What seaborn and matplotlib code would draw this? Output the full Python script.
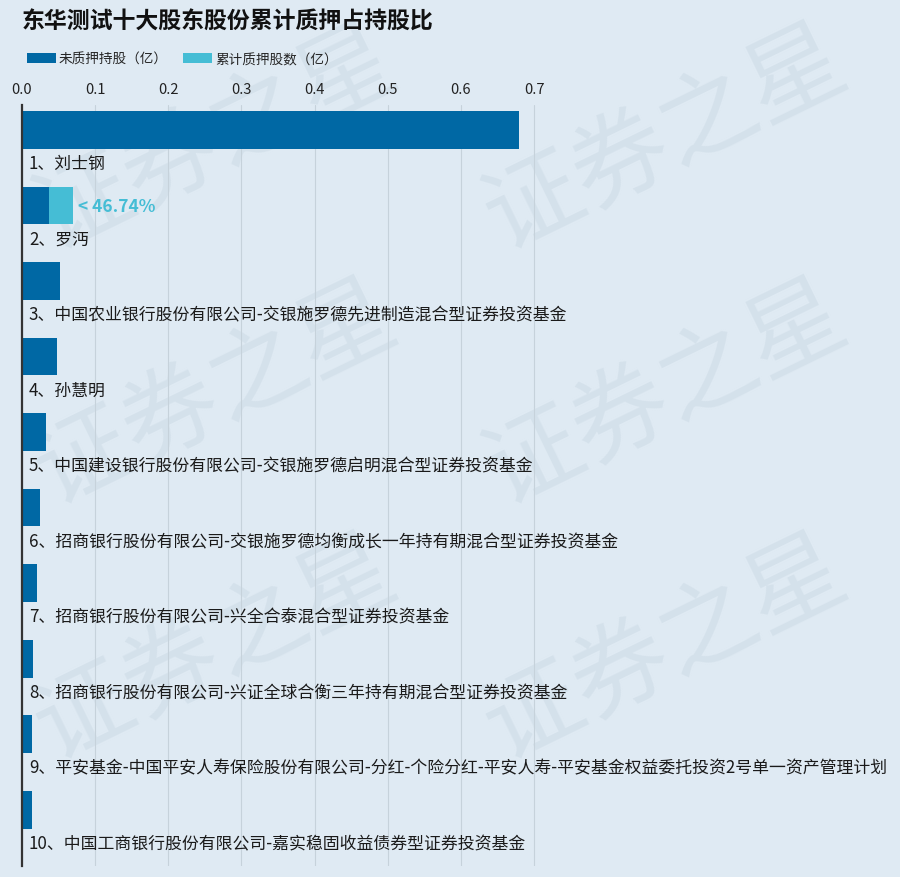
import matplotlib
matplotlib.use("Agg")
import matplotlib.pyplot as plt
import seaborn as sns
import pandas as pd
from matplotlib.patches import Patch

# ---- data ----
holders = [
    "1、刘士钢",
    "2、罗沔",
    "3、中国农业银行股份有限公司-交银施罗德先进制造混合型证券投资基金",
    "4、孙慧明",
    "5、中国建设银行股份有限公司-交银施罗德启明混合型证券投资基金",
    "6、招商银行股份有限公司-交银施罗德均衡成长一年持有期混合型证券投资基金",
    "7、招商银行股份有限公司-兴全合泰混合型证券投资基金",
    "8、招商银行股份有限公司-兴证全球合衡三年持有期混合型证券投资基金",
    "9、平安基金-中国平安人寿保险股份有限公司-分红-个险分红-平安人寿-平安基金权益委托投资2号单一资产管理计划",
    "10、中国工商银行股份有限公司-嘉实稳固收益债券型证券投资基金",
]
unpledged = [0.679, 0.0369, 0.052, 0.0477, 0.0327, 0.0245, 0.020, 0.015, 0.0136, 0.0136]
pledged = [0.0, 0.0324, 0.0, 0.0, 0.0, 0.0, 0.0, 0.0, 0.0, 0.0]
pledge_ratio_labels = ["", "< 46.74%", "", "", "", "", "", "", "", ""]
x_ticks = [0.0, 0.1, 0.2, 0.3, 0.4, 0.5, 0.6, 0.7]
legend_labels = ["未质押持股（亿）", "累计质押股数（亿）"]
title = "东华测试十大股东股份累计质押占持股比"

# ---- style ----
BG = "#dfeaf3"
DARK = "#0068a4"
LIGHT = "#45bdd5"
sns.set_theme(style="white")
plt.rcParams["font.family"] = ["Noto Sans CJK SC", "DejaVu Sans"]

df = pd.DataFrame({
    "holder": holders,
    "unpledged": unpledged,
    "pledged": pledged,
})
df["total"] = df["unpledged"] + df["pledged"]

fig = plt.figure(figsize=(9, 8.78), dpi=100, facecolor=BG)
ax = fig.add_axes([22 / 900, 1 - 867 / 878, 548.6 / 900, 761 / 878])
ax.set_facecolor("none")

# watermark
for cx in (215, 665):
    for cy in (140, 395, 650):
        fig.text(cx / 900, 1 - cy / 878, "证券之星", fontsize=70, color="#cddbe6",
                 alpha=0.6, rotation=26, ha="center", va="center", zorder=-5)

sns.barplot(data=df, y="holder", x="total", orient="h", color=LIGHT,
            width=0.5, saturation=1, linewidth=0, ax=ax, zorder=3)
sns.barplot(data=df, y="holder", x="unpledged", orient="h", color=DARK,
            width=0.5, saturation=1, linewidth=0, ax=ax, zorder=4)

ax.set_xlim(0, 0.75)
ax.set_ylim(9.746, -0.331)
ax.xaxis.tick_top()
ax.set_xticks(x_ticks)
ax.set_xticklabels([f"{v:.1f}" for v in x_ticks])
ax.tick_params(axis="x", length=0, pad=6.5, labelsize=10.5, labelcolor="#222222")
ax.set_yticks([])
ax.set_xlabel("")
ax.set_ylabel("")
ax.grid(axis="x", color="#c6d2db", linewidth=0.8, zorder=0)
ax.set_axisbelow(True)
for s in ("top", "right", "bottom"):
    ax.spines[s].set_visible(False)
ax.spines["left"].set_color("#333333")
ax.spines["left"].set_linewidth(1.6)
ax.spines["left"].set_zorder(6)

for i, name in enumerate(holders):
    ax.annotate(name, xy=(0, i), xytext=(5, -24), textcoords="offset points",
                ha="left", va="center", fontsize=12.15, color="#1a1a1a",
                annotation_clip=False)
    if pledge_ratio_labels[i]:
        ax.annotate(pledge_ratio_labels[i], xy=(df["total"][i], i), xytext=(4, 0),
                    textcoords="offset points", ha="left", va="center",
                    fontsize=12.5, fontweight="bold", color=LIGHT)

fig.text(22 / 900, 1 - 22 / 878, title, fontsize=16.5, fontweight="bold",
         color="#111111", ha="left", va="center")

handles = [Patch(facecolor=DARK, edgecolor="none"), Patch(facecolor=LIGHT, edgecolor="none")]
fig.legend(handles, legend_labels, loc="center left",
           bbox_to_anchor=(27 / 900, 1 - 60 / 878), ncol=2, frameon=False,
           fontsize=9.8, handlelength=2.1, handleheight=0.7, handletextpad=0.25,
           columnspacing=1.1, borderaxespad=0, borderpad=0)

fig.savefig("out.png", dpi=100, facecolor=BG)
